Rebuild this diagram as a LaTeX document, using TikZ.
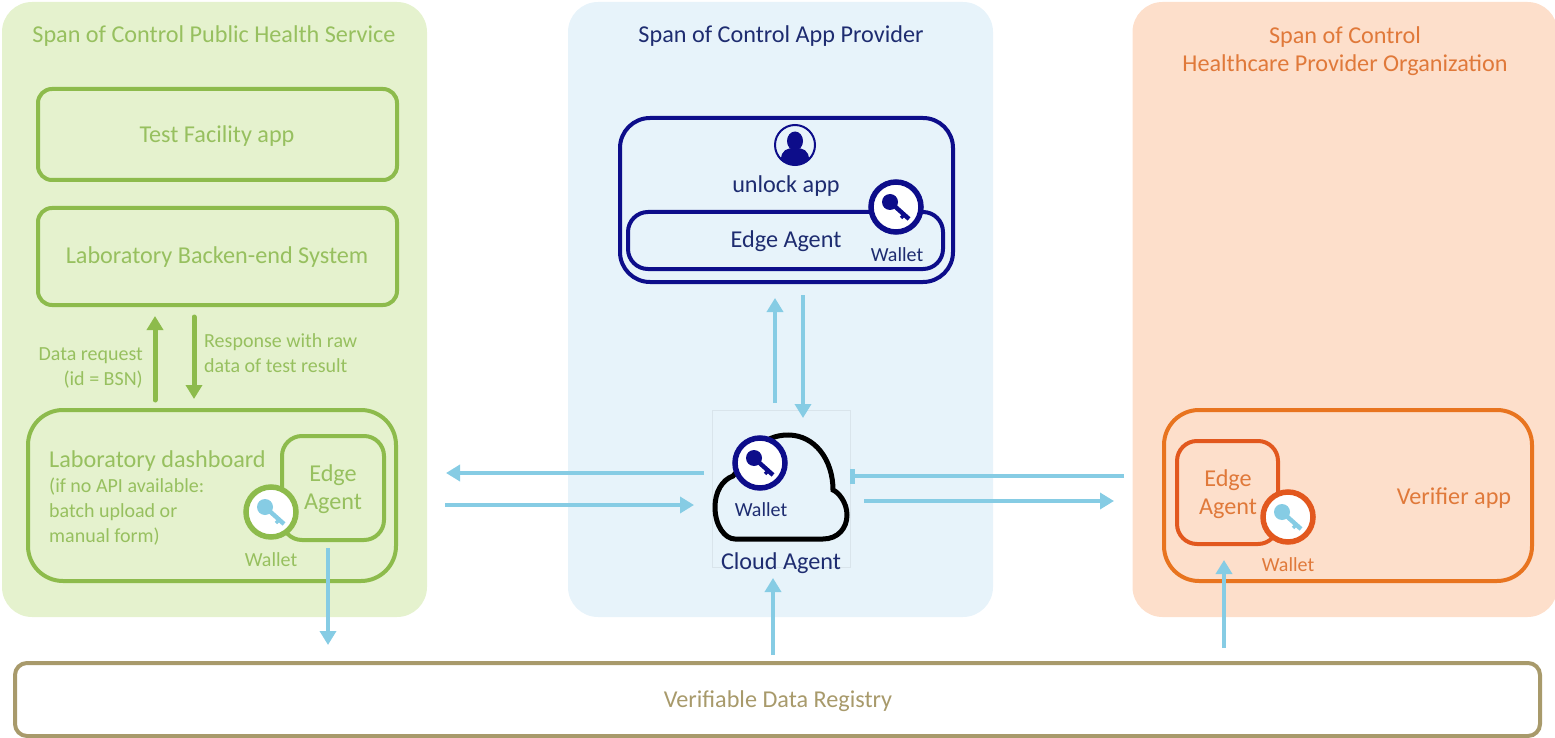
\documentclass[tikz,border=0pt]{standalone}
\usepackage{fontspec}
\setmainfont{Carlito}
\usetikzlibrary{arrows.meta}

\definecolor{greenback}{HTML}{E5F2CE}
\definecolor{blueback}{HTML}{E7F3FA}
\definecolor{orangeback}{HTML}{FDDFCB}
\definecolor{greenline}{HTML}{8DBB4C}
\definecolor{greentext}{HTML}{97C05F}
\definecolor{navyline}{HTML}{0D0D8A}
\definecolor{navytext}{HTML}{1E2C70}
\definecolor{orangeline}{HTML}{E8741F}
\definecolor{orangedark}{HTML}{E2581E}
\definecolor{orangetext}{HTML}{E0793A}
\definecolor{flowblue}{HTML}{86CCE4}
\definecolor{tanline}{HTML}{A89A6B}

\tikzset{
	panel/.style={rectangle,rounded corners=30pt,minimum width=425pt,minimum height=615pt,inner sep=0pt,outer sep=0pt},
	box/.style={draw,rectangle,line width=4pt,inner sep=0pt,outer sep=0pt},
	wallet/.style={draw,circle,fill=white,line width=5.5pt,minimum size=50pt,inner sep=0pt,outer sep=0pt},
	big/.style={font=\fontsize{24.2}{28}\selectfont,inner sep=0pt,yshift=-1.5pt},
	small/.style={font=\fontsize{20}{25}\selectfont,inner sep=0pt,yshift=-1pt},
	flow/.style={draw=flowblue,line width=4.5pt,-{Triangle[width=16pt,length=14pt]}},
	flowgreen/.style={draw=greenline,line width=5pt,line cap=round,-{Triangle[width=16pt,length=14pt]}},
	keyicon/.pic={
		\fill (-6,-5) circle (8);
		\draw[line width=4.4pt] (-6,-5) -- (13,12);
		\draw[line width=3.5pt] (8,8) -- (5,11);
	}
}

\begin{document}
\begin{tikzpicture}[x=1pt,y=-1pt]
	\useasboundingbox (0,0) rectangle (1555,738);

	% the three columns
	\node (public) [panel,fill=greenback] at (214.5,309.5) {};
	\node (provider) [panel,fill=blueback] at (780.5,309.5) {};
	\node (health) [panel,fill=orangeback] at (1345,309.5) {};
	\node (registry) [box,draw=tanline,fill=white,rounded corners=12pt,minimum width=1525pt,minimum height=73pt] at (777.5,699.5) {};

	\node (publictitle) [big,text=greentext] at (214,35) {Span of Control Public Health Service};
	\node (providertitle) [big,text=navytext] at (781,35) {Span of Control App Provider};
	\node (healthtitle) [big,text=orangetext,align=center] at (1345,50) {Span of Control\\Healthcare Provider Organization};
	\node (registrytext) [big,text=tanline] at (778,700) {Verifiable Data Registry};

	% public health service
	\node (facility) [box,draw=greenline,rounded corners=14pt,minimum width=359pt,minimum height=91pt] at (217.5,134.5) {};
	\node (facilitytext) [big,text=greentext] at (217,135) {Test Facility app};
	\node (backend) [box,draw=greenline,rounded corners=14pt,minimum width=359pt,minimum height=97pt] at (217.5,256.5) {};
	\node (backendtext) [big,text=greentext] at (217,256) {Laboratory Backen-end System};
	\node (dash) [box,draw=greenline,rounded corners=35pt,minimum width=368pt,minimum height=171pt] at (212,495.5) {};
	\node (dashtext) [big,text=greentext,anchor=west] at (49,460) {Laboratory dashboard};
	\node (dashnote) [small,text=greentext,anchor=west,align=left] at (49,511) {(if no API available:\\batch upload or\\manual form)};
	\node (dashedge) [box,draw=greenline,rounded corners=20pt,minimum width=102pt,minimum height=104pt] at (333,488) {};
	\node (dashedgetext) [big,text=greentext,align=center] at (333,488) {Edge\\Agent};
	\node (dashwallet) [wallet,draw=greenline] at (271,512) {};
	\pic[color=flowblue] at (dashwallet) {keyicon};
	\node (dashwallettext) [small,text=greentext] at (271,559) {Wallet};
	\node (reqtext) [small,text=greentext,anchor=east,align=right] at (143,367) {Data request\\(id = BSN)};
	\node (resptext) [small,text=greentext,anchor=west,align=left] at (204,352) {Response with raw\\data of test result};
	\draw[flowgreen,shorten <=10pt,shorten >=11pt] ([xshift=-57pt]dash.north) -- ([xshift=-62.5pt]backend.south);
	\draw[flowgreen,shorten <=12pt,shorten >=11pt] ([xshift=-23.5pt]backend.south) -- ([xshift=-18pt]dash.north);

	% app provider
	\node (app) [box,draw=navyline,rounded corners=30pt,minimum width=333pt,minimum height=164pt] at (786.5,200) {};
	\node (person) [draw=navyline,circle,line width=2pt,minimum size=40pt,inner sep=0pt,outer sep=0pt] at (795,145) {};
	\fill[navyline] (795,141) ellipse (8 and 9.5);
	\fill[navyline] (781,160) .. controls (781,150) and (787,148) .. (795,148) .. controls (803,148) and (809,150) .. (809,160) .. controls (803,166) and (787,166) .. (781,160) -- cycle;
	\node (apptext) [big,text=navytext] at (786,185) {unlock app};
	\node (appedge) [box,draw=navyline,rounded corners=20pt,minimum width=315pt,minimum height=57pt] at (785.5,240.5) {};
	\node (appedgetext) [big,text=navytext] at (786,240) {Edge Agent};
	\node (appwallet) [wallet,draw=navyline] at (896,207) {};
	\pic[color=navyline] at (appwallet) {keyicon};
	\node (appwallettext) [small,text=navytext] at (897,254) {Wallet};

	\node (cloudbox) [draw=black!6!blueback,rectangle,line width=1pt,minimum width=138pt,minimum height=157pt,inner sep=0pt,outer sep=0pt] at (781,488.5) {};
	\draw[line width=5pt,black] (735,539) -- (823,539) .. controls (838,539) and (847,528) .. (847,515) .. controls (847,502) and (838,492) .. (833,490) .. controls (833,460) and (815,435) .. (788,435) .. controls (775,435) and (765,440) .. (758,447) -- (733,476) .. controls (722,480) and (715,492) .. (715,507) .. controls (715,526) and (725,539) .. (735,539) -- cycle;
	\node (cloudwallet) [wallet,draw=navyline] at (760,463) {};
	\pic[color=navyline] at (cloudwallet) {keyicon};
	\node (cloudwallettext) [small,text=navytext] at (761,509) {Wallet};
	\node (cloudtext) [big,text=navytext] at (781,562) {Cloud Agent};

	% healthcare provider
	\node (verifier) [box,draw=orangeline,rounded corners=35pt,minimum width=368pt,minimum height=171pt] at (1348,495.5) {};
	\node (verifiertext) [big,text=orangetext] at (1454,497) {Verifier app};
	\node (veredge) [box,draw=orangedark,rounded corners=20pt,minimum width=101pt,minimum height=103pt] at (1227.5,492.5) {};
	\node (veredgetext) [big,text=orangetext,align=center] at (1228,493) {Edge\\Agent};
	\node (verwallet) [wallet,draw=orangedark] at (1288,517) {};
	\pic[color=flowblue] at (verwallet) {keyicon};
	\node (verwallettext) [small,text=orangetext] at (1288,564) {Wallet};

	% flows between the columns
	\draw[flow,shorten <=8pt,shorten >=50pt] ([yshift=15.5pt]cloudbox.west) -- ([yshift=22.5pt]dash.east);
	\draw[flow,shorten <=49pt,shorten >=18pt] ([yshift=-9.5pt]dash.east) -- ([yshift=-16.5pt]cloudbox.west);
	\draw[flow,shorten <=7pt,shorten >=16pt] ([xshift=-6pt]cloudbox.north) -- ([xshift=-11.5pt]app.south);
	\draw[flow,shorten <=13pt,shorten >=-8pt] ([xshift=16.5pt]app.south) -- ([xshift=22pt]cloudbox.north);
	\draw[draw=flowblue,line width=4.5pt,-{Bar[width=15pt]},shorten <=40pt] ([yshift=19.5pt]verifier.west) -- ([yshift=12.5pt]cloudbox.east);
	\draw[flow,shorten <=14pt,shorten >=50pt] ([yshift=-12.5pt]cloudbox.east) -- ([yshift=-5.5pt]verifier.west);
	\draw[flow,shorten <=8pt,shorten >=11pt] ([xshift=-4.5pt]registry.north) -- ([xshift=-8pt]cloudbox.south);
	\draw[flow,shorten <=15pt,shorten >=-21pt] ([xshift=446.5pt]registry.north) -- ([xshift=-124pt]verifier.south);
	\draw[flow,shorten <=-33pt,shorten >=18pt] ([xshift=116pt]dash.south) -- ([xshift=-449.5pt]registry.north);
\end{tikzpicture}
\end{document}
